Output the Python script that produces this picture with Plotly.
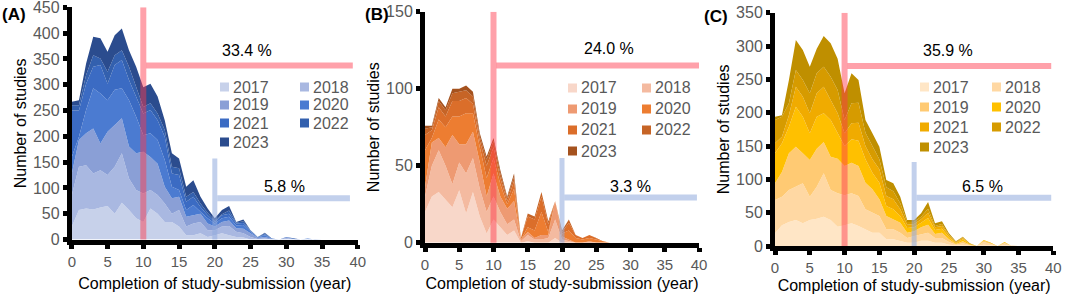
import plotly.graph_objects as go

W, H = 1065, 295
FONT = "Liberation Sans, Arial, sans-serif"

years = list(range(41))
legend_years = ["2017", "2018", "2019", "2020", "2021", "2022", "2023"]

# ---- Panel A (blue) : number of studies per completion-submission gap, by submission year
a_2017 = [25,57,60,58,62,65,50,71,57,41, 34,60,50,34,34,25,8,8,12,5, 8,12,8,5,4,0,0,0,0,0, 1,0,0,0,0,0,0,0,0,0,0]
a_2018 = [61,84,84,70,72,60,91,96,61,55, 55,36,36,36,16,32,17,23,22,13, 10,13,18,10,8,5,1,2,0,0, 2,1,0,1,0,0,0,0,0,0,0]
a_2019 = [42,52,62,87,52,84,81,68,62,71, 81,64,61,32,30,26,19,16,16,13, 7,9,11,7,9,7,2,3,1,0, 1,0,0,0,0,0,0,0,0,0,0]
a_2020 = [32,6,45,78,97,61,68,58,90,71, 32,46,46,52,22,13,13,20,4,10, 6,7,7,5,7,3,1,3,0,0, 0,1,0,1,0,0,0,0,0,0,0]
a_2021 = [90,51,51,42,55,32,48,55,39,39, 42,45,38,45,26,29,16,16,9,6, 3,6,6,4,4,2,0,2,1,0, 1,0,0,0,0,0,0,0,0,0,0]
a_2022 = [10,10,17,22,13,23,19,19,26,19, 13,13,13,13,13,13,10,9,7,5, 3,2,6,2,3,1,1,2,0,0, 0,0,0,0,0,0,0,0,0,0,0]
a_2023 = [7,10,22,36,39,39,39,42,32,39, 38,38,33,19,26,19,19,23,13,8, 4,8,9,1,4,0,0,1,0,0, 0,0,0,0,0,0,0,0,0,0,0]

# ---- Panel B (orange)
b_2017 = [20,30,33,28,23,34,19,33,17,6, 15,10,5,8,0,1,0,0,0,3, 0,0,0,0,0,0,0,0,0,0, 0,0,0,0,0,0,0,0,0,0,0]
b_2018 = [10,20,27,22,15,18,26,22,18,14, 15,10,7,7,1,4,2,2,3,12, 2,1,0,0,0,0,0,0,0,0, 0,0,0,0,0,0,0,0,0,0,0]
b_2019 = [6,15,8,12,32,12,19,17,17,10, 15,10,10,12,1,2,1,3,2,12, 2,1,0,0,1,0,0,0,0,0, 0,0,0,0,0,0,0,0,0,0,0]
b_2020 = [24,3,12,13,12,18,20,12,10,12, 10,8,3,8,0,3,5,15,2,0, 2,6,3,2,2,2,1,0,0,0, 0,0,0,0,0,0,0,0,0,0,0]
b_2021 = [10,5,8,7,10,10,10,6,4,8, 7,4,2,5,1,7,7,10,5,0, 1,5,2,1,2,1,0,0,0,0, 0,0,0,0,0,0,0,0,0,0,0]
b_2022 = [4,2,4,4,5,6,5,5,3,4, 4,3,2,3,0,2,2,3,2,0, 1,2,0,0,0,0,0,0,0,0, 0,0,0,0,0,0,0,0,0,0,0]
b_2023 = [2,1,2,2,3,2,3,3,2,2, 2,2,1,2,0,0,0,0,0,0, 0,0,0,0,0,0,0,0,0,0, 0,0,0,0,0,0,0,0,0,0,0]

# ---- Panel C (gold)
c_2017 = [19,31,36,39,34,39,41,44,39,29, 31,34,30,25,20,20,10,10,8,5, 5,8,8,5,5,2,1,1,0,0, 2,1,0,1,0,0,0,0,0,0,0]
c_2018 = [50,43,48,50,60,35,48,65,45,50, 45,45,45,30,30,25,15,15,12,7, 10,10,12,7,7,4,1,3,1,0, 4,2,0,3,0,0,0,0,0,0,0]
c_2019 = [25,37,55,60,45,55,57,47,50,52, 44,46,45,40,35,25,20,15,15,8, 7,10,12,6,8,4,1,3,1,0, 2,1,0,1,0,0,0,0,0,0,0]
c_2020 = [45,43,40,60,55,40,48,43,55,38, 30,35,38,35,25,25,15,15,10,7, 6,7,10,6,6,3,1,3,1,0, 1,1,0,1,0,0,0,0,0,0,0]
c_2021 = [15,10,17,30,30,30,35,40,30,30, 19,24,27,20,20,20,15,15,10,5, 5,5,8,4,4,3,1,2,0,0, 0,0,0,0,0,0,0,0,0,0,0]
c_2022 = [35,30,18,25,25,30,30,30,35,35, 20,30,30,20,20,15,13,12,9,4, 3,4,6,2,3,1,1,1,1,0, 0,0,0,0,0,0,0,0,0,0,0]
c_2023 = [5,2,35,45,45,40,37,46,50,47, 40,45,34,19,19,19,11,12,10,3, 3,5,10,4,4,2,1,1,0,0, 0,0,0,0,0,0,0,0,0,0,0]

pct_over_10 = ["33.4 %", "24.0 %", "35.9 %"]
pct_over_20 = ["5.8 %", "3.3 %", "6.5 %"]
panel_labels = ["(A)", "(B)", "(C)"]
y_max = [450, 150, 350]

blues = ["#C7D1EA", "#A9B8E1", "#8A9FD6", "#4B7BD1", "#3B6BC3", "#3360AE", "#2B4C8E"]
oranges = ["#F8D7C9", "#F4BAA0", "#EE9A72", "#ED7D31", "#DB6E2A", "#C66426", "#A5521E"]
golds = ["#FFE6C6", "#FFD8A3", "#FFCA73", "#FFC000", "#F0AB00", "#D69B00", "#BF8F00"]

panels = [
    dict(series=[a_2017, a_2018, a_2019, a_2020, a_2021, a_2022, a_2023], colors=blues),
    dict(series=[b_2017, b_2018, b_2019, b_2020, b_2021, b_2022, b_2023], colors=oranges),
    dict(series=[c_2017, c_2018, c_2019, c_2020, c_2021, c_2022, c_2023], colors=golds),
]

# layout geometry (pixels)
x_px = [(71.8, 357.8), (425.0, 699.0), (775.0, 1053.3)]
y_px = [(7.3, 239.5), (11.7, 242.7), (12.7, 246.0)]
# line/annotation positions in data units
pink_h = [337, 115, 270]
pink_h_end = [39.3, 40, 39.7]
blue_v_top = [157, 55, 126]
blue_h = [80, 29.3, 72.5]
blue_h_end = [38.9, 39.7, 39.7]
txt10 = [(24.5, 367), (26.8, 126), (24.8, 294)]
txt20 = [(29.7, 103), (30.0, 36.5), (29.8, 89)]
# legend geometry (pixels): swatch lefts, row centers
leg_cols = [(220, 300), (568, 642), (920, 992)]
leg_rows = [(87, 105, 123, 142), (88, 109, 130, 151), (87, 107, 127, 147)]
label_pos = [(14, 14), (377, 15), (716, 17)]
xtitle_standoff = [11, 8, 6]

fig = go.Figure()
PINK = "rgba(255,55,75,0.47)"
BLUEL = "rgba(143,170,220,0.55)"

shapes, annotations = [], []
for i, p in enumerate(panels):
    xa = "x" if i == 0 else f"x{i+1}"
    ya = "y" if i == 0 else f"y{i+1}"
    for name, vals, col in zip(legend_years, p["series"], p["colors"]):
        fig.add_trace(go.Scatter(
            x=years, y=vals, name=name, xaxis=xa, yaxis=ya,
            stackgroup=f"s{i}", mode="lines", line=dict(width=0, color=col),
            fillcolor=col, showlegend=False, hoverinfo="x+y+name"))
    ax_key = "xaxis" if i == 0 else f"xaxis{i+1}"
    ay_key = "yaxis" if i == 0 else f"yaxis{i+1}"
    x0, x1 = x_px[i]
    yt, yb = y_px[i]
    fig.update_layout(**{
        ax_key: dict(domain=[x0 / W, x1 / W], anchor=ya, range=[0, 40], automargin=False,
                     tickmode="array", tickvals=list(range(0, 41, 5)), ticklabeloverflow="allow",
                     showline=True, linecolor="black", linewidth=5,
                     ticks="outside", ticklen=4, tickwidth=5, tickcolor="black",
                     tickfont=dict(family=FONT, size=15, color="#595959"),
                     showgrid=False, zeroline=False,
                     title=dict(text="Completion of study-submission (year)",
                                font=dict(family=FONT, size=16, color="black"),
                                standoff=xtitle_standoff[i])),
        ay_key: dict(domain=[1 - yb / H, 1 - yt / H], anchor=xa, range=[0, y_max[i]], automargin=False,
                     dtick=50, showline=True, linecolor="black", linewidth=5, ticklabeloverflow="allow",
                     ticks="outside", ticklen=4, tickwidth=5, tickcolor="black",
                     tickfont=dict(family=FONT, size=16, color="#595959"),
                     showgrid=False, zeroline=False,
                     title=dict(text="Number of studies",
                                font=dict(family=FONT, size=16, color="black"), standoff=4)),
    })
    # reference lines
    shapes += [
        dict(type="line", xref=xa, yref=ya, x0=10, x1=10, y0=-3, y1=y_max[i], line=dict(color=PINK, width=6), layer="above"),
        dict(type="line", xref=xa, yref=ya, x0=10.4, x1=pink_h_end[i], y0=pink_h[i], y1=pink_h[i], line=dict(color=PINK, width=6), layer="above"),
        dict(type="line", xref=xa, yref=ya, x0=20, x1=20, y0=-3, y1=blue_v_top[i], line=dict(color=BLUEL, width=5), layer="above"),
        dict(type="line", xref=xa, yref=ya, x0=20.35, x1=blue_h_end[i], y0=blue_h[i], y1=blue_h[i], line=dict(color=BLUEL, width=6), layer="above"),
    ]
    annotations += [
        dict(x=txt10[i][0], y=txt10[i][1], xref=xa, yref=ya, text=pct_over_10[i], showarrow=False,
             xanchor="center", yanchor="middle", font=dict(family=FONT, size=16, color="black")),
        dict(x=txt20[i][0], y=txt20[i][1], xref=xa, yref=ya, text=pct_over_20[i], showarrow=False,
             xanchor="center", yanchor="middle", font=dict(family=FONT, size=16, color="black")),
        dict(x=label_pos[i][0] / W, y=1 - label_pos[i][1] / H, xref="paper", yref="paper",
             xanchor="center", yanchor="middle",
             text=f"<b>{panel_labels[i]}</b>", showarrow=False,
             font=dict(family=FONT, size=17, color="black")),
    ]
    # manual two-column legend
    for k, (name, col) in enumerate(zip(legend_years, p["colors"])):
        r, c = divmod(k, 2)
        sx = leg_cols[i][c]
        cy = leg_rows[i][r]
        shapes.append(dict(type="rect", xref="paper", yref="paper",
                           x0=sx / W, x1=(sx + 9) / W, y0=1 - (cy + 4.5) / H, y1=1 - (cy - 4.5) / H,
                           fillcolor=col, line=dict(width=0), layer="above"))
        annotations.append(dict(x=(sx + 11) / W, y=1 - cy / H, xref="paper", yref="paper",
                                xanchor="left", yanchor="middle", text=name, showarrow=False,
                                font=dict(family=FONT, size=16, color="#595959")))

fig.update_layout(width=W, height=H, margin=dict(l=0, r=0, t=0, b=0),
                  paper_bgcolor="white", plot_bgcolor="white",
                  shapes=shapes, annotations=annotations, showlegend=False,
                  font=dict(family=FONT))
fig.write_html("out.html", config={"displayModeBar": False},
               post_script="document.body.style.margin='0';")
